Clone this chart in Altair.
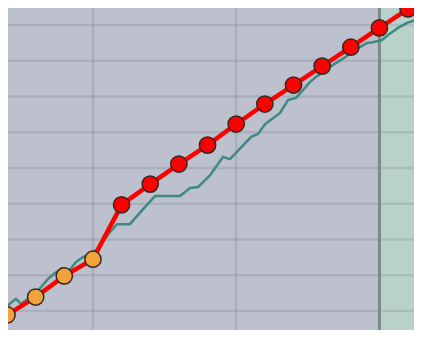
import altair as alt
import pandas as pd

# Monthly series (red / orange markers)
red_x = list(range(15))
red_y = [8.9, 13.9, 19.8, 24.5, 39.7, 45.5, 51.1, 56.4, 62.3, 67.9, 73.2, 78.5, 83.8, 89.2, 94.5]
red_phase = ["early"] * 4 + ["late"] * 11

# Weekly series (teal line)
teal_x = [-0.24, -0.03, 0.17, 0.31, 0.49, 0.73, 0.98, 1.19, 1.43, 1.68, 1.92, 2.16, 2.41, 2.65,
          2.90, 3.14, 3.39, 3.60, 3.84, 4.29, 4.75, 5.17, 5.62, 6.04, 6.39, 6.67, 7.09, 7.29,
          7.54, 7.78, 8.06, 8.52, 8.76, 9.01, 9.25, 9.53, 9.81, 10.09, 10.33, 10.58, 10.82,
          11.06, 11.31, 11.55, 11.80, 12.04, 12.32, 12.57, 12.77, 13.09, 13.30, 13.65, 13.96,
          14.28, 14.55]
teal_y = [9.7, 11.1, 12.5, 13.4, 12.0, 13.4, 15.0, 16.7, 19.0, 20.6, 22.0, 21.2, 23.7, 25.1,
          25.9, 27.3, 29.9, 32.1, 34.3, 34.3, 38.5, 42.2, 42.2, 42.2, 44.4, 44.7, 48.0, 50.3,
          53.1, 52.5, 54.8, 58.7, 59.5, 62.3, 63.7, 65.4, 69.0, 69.6, 71.8, 74.1, 75.7,
          77.1, 78.5, 79.7, 81.0, 82.4, 83.8, 85.0, 85.2, 85.8, 87.2, 89.2, 90.6,
          91.4, 93.4]

# Grid positions and shaded region
grid_x = [3, 8]
grid_y = [10, 20, 30, 40, 50, 60, 70, 80, 90]
region_start = [13]
region_end = [16]

red_df = pd.DataFrame({"x": red_x, "y": red_y, "phase": red_phase})
teal_df = pd.DataFrame({"x": teal_x, "y": teal_y})
gx_df = pd.DataFrame({"x": grid_x})
gy_df = pd.DataFrame({"y": grid_y})
reg_df = pd.DataFrame({"x": region_start, "x2": region_end})

W, H = 406, 322
xs = alt.Scale(domain=[0.0349, 14.206], nice=False, zero=False)
ys = alt.Scale(domain=[4.685, 94.76], nice=False, zero=False)

region = alt.Chart(reg_df).mark_rect(color="#b9d2c9", clip=True).encode(
    x=alt.X("x:Q", scale=xs, axis=None),
    x2="x2:Q",
    y=alt.value(0),
    y2=alt.value(H),
)

hgrid = alt.Chart(gy_df).mark_rule(color="#505a70", opacity=0.17, strokeWidth=2.5).encode(
    y=alt.Y("y:Q", scale=ys, axis=None)
)
vgrid = alt.Chart(gx_df).mark_rule(color="#505a70", opacity=0.17, strokeWidth=2.5).encode(
    x=alt.X("x:Q", scale=xs, axis=None)
)
boundary = alt.Chart(reg_df).mark_rule(color="#7b8a89", strokeWidth=3).encode(
    x=alt.X("x:Q", scale=xs, axis=None)
)

teal = alt.Chart(teal_df).mark_line(color="#3f8981", strokeWidth=2.5, clip=True).encode(
    x=alt.X("x:Q", scale=xs, axis=None),
    y=alt.Y("y:Q", scale=ys, axis=None),
)

red_line = alt.Chart(red_df).mark_line(color="#ff0000", strokeWidth=4.5, clip=True).encode(
    x=alt.X("x:Q", scale=xs, axis=None),
    y=alt.Y("y:Q", scale=ys, axis=None),
)

points = alt.Chart(red_df).mark_point(
    filled=True, size=265, stroke="#3a2620", strokeWidth=1.5, opacity=1, shape="circle", clip=True
).encode(
    x=alt.X("x:Q", scale=xs, axis=None),
    y=alt.Y("y:Q", scale=ys, axis=None),
    fill=alt.Fill("phase:N", scale=alt.Scale(domain=["early", "late"], range=["#f2a33c", "#ff0000"]), legend=None),
)

chart = alt.layer(region, hgrid, vgrid, boundary, teal, red_line, points).properties(
    width=W,
    height=H,
    padding=0,
    autosize=alt.AutoSizeParams(type="none"),
    background="#bdc1cd",
).configure_view(stroke=None, fill="#bdc1cd")

chart.save("out.html", embed_options={"renderer": "svg", "actions": False})
